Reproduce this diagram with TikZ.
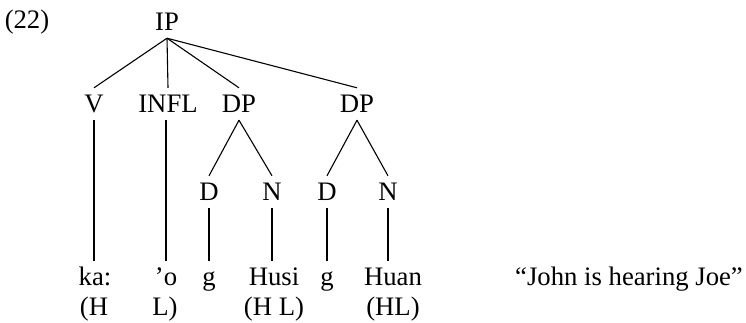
\documentclass[tikz,border=0pt]{standalone}
\usepackage{fontspec}
\setmainfont{Liberation Serif}
\begin{document}
\begin{tikzpicture}[x=1pt,y=-1pt,
  every node/.style={font=\fontsize{26.7}{30}\selectfont},
  lab/.style={anchor=base, inner xsep=0pt, inner ysep=3pt, text height=21pt, text depth=5pt},
  edge/.style={line width=1.1pt}]
\useasboundingbox (0,0) rectangle (746,322);
% labels
\node[lab] (ex) at (27,28) {(22)};
\node[lab] (ip) at (167,30) {IP};
\node[lab] (v) at (94,112) {V};
\node[lab] (infl) at (168,112) {INFL};
\node[lab] (dpa) at (239,112) {DP};
\node[lab] (dpb) at (357,112) {DP};
\node[lab] (da) at (209,200) {D};
\node[lab] (na) at (272,200) {N};
\node[lab] (db) at (327,200) {D};
\node[lab] (nb) at (388,200) {N};
% words
\node[lab] (ka) at (95,285) {ka:};
\node[lab] (o) at (166,285) {’o};
\node[lab] (ga) at (209,285) {g};
\node[lab] (husi) at (274,285) {Husi};
\node[lab] (gb) at (327,285) {g};
\node[lab] (huan) at (393,285) {Huan};
% tones
\node[lab] (ta) at (94,315) {(H};
\node[lab] (tb) at (165,315) {L)};
\node[lab] (tc) at (274,315) {(H L)};
\node[lab] (td) at (393,315) {(HL)};
% gloss
\node[lab, anchor=base west] (gloss) at (515,285) {“John is hearing Joe”};
% edges
\draw[edge] (ip.south) -- (v.north);
\draw[edge] (ip.south) -- (infl.north);
\draw[edge] (ip.south) -- (dpa.north);
\draw[edge] (ip.south) -- (dpb.north);
\draw[edge] (dpa.south) -- (da.north);
\draw[edge] (dpa.south) -- (na.north);
\draw[edge] (dpb.south) -- (db.north);
\draw[edge] (dpb.south) -- (nb.north);
\draw[edge] (v.south) -- (v.south |- ka.north);
\draw[edge] (o.north |- infl.south) -- (o.north);
\draw[edge] (da.south) -- (da.south |- ga.north);
\draw[edge] (na.south) -- (na.south |- husi.north);
\draw[edge] (db.south) -- (db.south |- gb.north);
\draw[edge] (nb.south) -- (nb.south |- huan.north);
\end{tikzpicture}
\end{document}
